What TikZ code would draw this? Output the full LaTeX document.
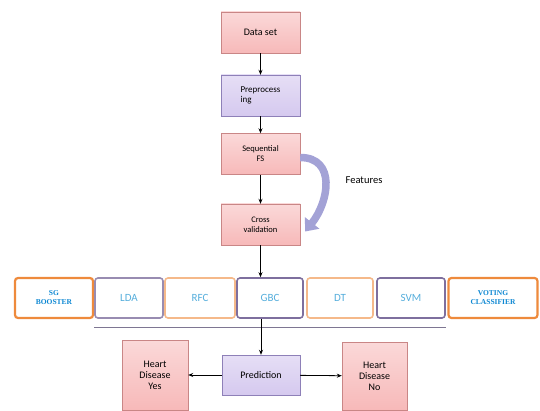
\documentclass[tikz,border=0pt]{standalone}
\usepackage{fontspec}
\setmainfont{Carlito}
\newfontfamily\capfont{Liberation Serif}
\usetikzlibrary{arrows.meta}

\definecolor{pinkfill}{HTML}{F7B9B9}
\definecolor{pinkline}{HTML}{C98686}
\definecolor{lilacfill}{HTML}{D5C9EF}
\definecolor{lilacline}{HTML}{8E80B8}
\definecolor{orangeline}{HTML}{EE8A3C}
\definecolor{violetline}{HTML}{7E6F9E}
\definecolor{labelblue}{HTML}{55AEDC}
\definecolor{featcol}{HTML}{A3A2D6}

\begin{document}
\begin{tikzpicture}[x=1pt, y=-1pt, every node/.style={font=\fontsize{10}{11}\selectfont, align=center, inner sep=0pt},
	pinkbox/.style={draw=pinkline, top color=pinkfill!55, bottom color=pinkfill, minimum width=79, minimum height=41},
	lilacbox/.style={draw=lilacline, top color=lilacfill!60, bottom color=lilacfill, minimum width=79, minimum height=41},
	algo/.style={draw, line width=1.6pt, rounded corners=3pt, fill=white, minimum height=40, text=labelblue, font=\fontsize{11}{12}\selectfont},
	algoedge/.style={algo, draw=orangeline, line width=2.2pt, font=\capfont\bfseries\fontsize{7.5}{9}\selectfont, text=cyan!70!blue},
	flow/.style={-{Stealth[length=5pt,width=4pt]}, thick}]
	\useasboundingbox (0,0) rectangle (540,411);
	\node[pinkbox] (data) at (260.5,32.5) {Data set};
	\node[lilacbox, align=left, font=\fontsize{9}{10.5}\selectfont] (prep) at (260.5,95.5) {Preprocess\\ing};
	\node[pinkbox, font=\fontsize{8.5}{10}\selectfont] (seq) at (260.5,154) {Sequential\\FS};
	\node[pinkbox, font=\fontsize{8.5}{10}\selectfont] (cross) at (260.5,224.5) {Cross\\validation};
	\node[font=\fontsize{10.5}{12}\selectfont] (feat) at (364,180) {Features};
	% classifier row
	\node[algoedge, minimum width=78] (sg) at (54,298) {SG\\BOOSTER};
	\node[algo, draw=violetline!80, minimum width=68] (lda) at (129,298) {LDA};
	\node[algo, draw=orangeline!60, minimum width=70] (rfc) at (200,298) {RFC};
	\node[algo, draw=violetline, minimum width=66] (gbc) at (270,298) {GBC};
	\node[algo, draw=orangeline!60, minimum width=66] (dt) at (340,298) {DT};
	\node[algo, draw=violetline, minimum width=68] (svm) at (411,298) {SVM};
	\node[algoedge, minimum width=89] (vote) at (493,298) {VOTING\\CLASSIFIER};
	% outcome
	\node[lilacbox, minimum width=78, minimum height=40] (pred) at (261,375) {Prediction};
	\node[pinkbox, minimum width=66, minimum height=70] (yes) at (155,375) {Heart\\Disease\\Yes};
	\node[pinkbox, minimum width=65, minimum height=68] (no) at (374.5,376) {Heart\\Disease\\No};
	\draw[flow] (data) -- (prep);
	\draw[flow] (prep) -- (seq);
	\draw[flow] (seq) -- (cross);
	\draw[flow] (cross) -- (cross |- gbc.north);
	\draw[featcol, line width=7.5pt, -{Triangle[length=11pt,width=18pt]}] ([yshift=-3.5]seq.east) .. controls +(36,0) and +(24,-30) .. ([xshift=5,yshift=-7]cross.east);
	\draw[violetline!60!gray, thick] ([yshift=-9]lda.south west) -- ([yshift=-9]svm.south east);
	\draw[flow] (pred.north |- gbc.south) -- (pred.north);
	\draw[flow] (pred) -- (yes);
	\draw[flow] (pred) -- (no);
\end{tikzpicture}
\end{document}
